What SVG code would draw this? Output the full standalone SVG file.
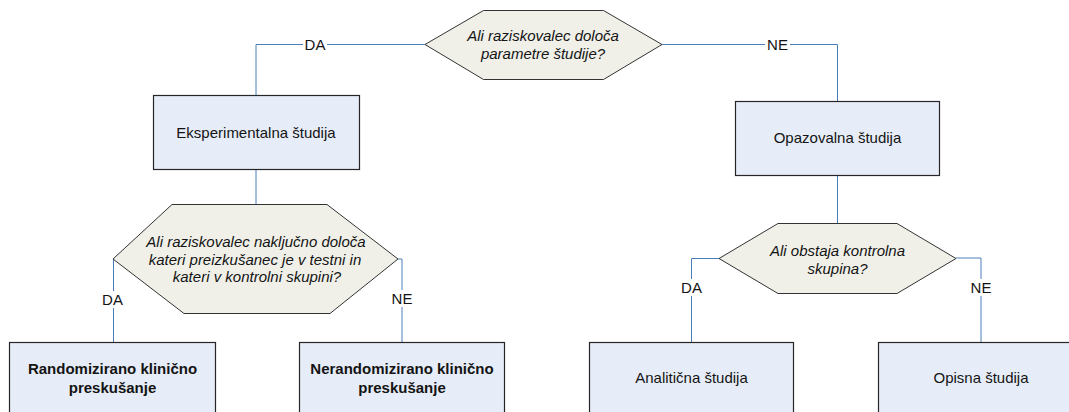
<svg xmlns="http://www.w3.org/2000/svg" width="1069" height="412" viewBox="0 0 1069 412">
  <style>
    .box { fill: #e7edf8; stroke: #262626; stroke-width: 1.2; }
    .hex { fill: #f0f0e9; stroke: #333333; stroke-width: 1; }
    .conn { fill: none; stroke: #4a7ebb; stroke-width: 1; }
    .t { font-family: "Liberation Sans", Arial, sans-serif; font-size: 15px; fill: #141414; text-anchor: middle; }
    .q { font-style: italic; }
    .b { font-weight: bold; }
    .lblbg { fill: #ffffff; }
  </style>
  <rect x="0" y="0" width="1069" height="412" fill="#ffffff"/>

  <g id="connectors">
    <path class="conn" d="M425,44.5 H256 V95"/>
    <path class="conn" d="M662,44.5 H837.5 V101"/>
    <path class="conn" d="M256,169 V204"/>
    <path class="conn" d="M837.5,175 V223"/>
    <path class="conn" d="M113.5,259 V342"/>
    <path class="conn" d="M398,259 H402 V342"/>
    <path class="conn" d="M719,258.5 H691.5 V342"/>
    <path class="conn" d="M956,258 H981 V342"/>
    <g id="labels">
      <rect class="lblbg" x="303" y="36" width="24" height="17"/>
      <text class="t" x="315" y="49.5">DA</text>
      <rect class="lblbg" x="765" y="36" width="25" height="17"/>
      <text class="t" x="777.5" y="49.5">NE</text>
      <rect class="lblbg" x="100" y="291" width="25" height="17"/>
      <text class="t" x="112.5" y="305">DA</text>
      <rect class="lblbg" x="389" y="290" width="26" height="17"/>
      <text class="t" x="402" y="303.5">NE</text>
      <rect class="lblbg" x="679" y="279" width="25" height="17"/>
      <text class="t" x="691.5" y="292.5">DA</text>
      <rect class="lblbg" x="968" y="279" width="26" height="17"/>
      <text class="t" x="981" y="292.5">NE</text>
    </g>
  </g>

  <g id="q1">
    <polygon class="hex" points="425,44.5 483.5,10.5 603.5,10.5 662,44.5 603.5,79.5 483.5,79.5"/>
    <text class="t q" x="543" y="41">Ali raziskovalec določa</text>
    <text class="t q" x="543" y="59">parametre študije?</text>
  </g>

  <g id="n-eksperimentalna">
    <rect class="box" x="153.5" y="95.5" width="206" height="74"/>
    <text class="t" x="256" y="138">Eksperimentalna študija</text>
  </g>

  <g id="n-opazovalna">
    <rect class="box" x="735.5" y="101.5" width="204" height="74"/>
    <text class="t" x="837.5" y="143">Opazovalna študija</text>
  </g>

  <g id="q2">
    <polygon class="hex" points="113,259 172,204.5 327,204.5 398,259 330,313.5 184,313.5"/>
    <text class="t q" x="256" y="247">Ali raziskovalec naključno določa</text>
    <text class="t q" x="255" y="264.5">kateri preizkušanec je v testni in</text>
    <text class="t q" x="257" y="282">kateri v kontrolni skupini?</text>
  </g>

  <g id="q3">
    <polygon class="hex" points="719,258.5 778,223.5 897,223.5 956,258.5 897,293.5 778,293.5"/>
    <text class="t q" x="837.5" y="255.5">Ali obstaja kontrolna</text>
    <text class="t q" x="837.5" y="273.5">skupina?</text>
  </g>

  <g id="n-randomizirano">
    <rect class="box" x="9.5" y="342.5" width="206" height="80"/>
    <text class="t b" x="112.5" y="374">Randomizirano klinično</text>
    <text class="t b" x="112.5" y="393">preskušanje</text>
  </g>

  <g id="n-nerandomizirano">
    <rect class="box" x="299.5" y="342.5" width="205" height="80"/>
    <text class="t b" x="402" y="374">Nerandomizirano klinično</text>
    <text class="t b" x="402" y="393">preskušanje</text>
  </g>

  <g id="n-analiticna">
    <rect class="box" x="589.5" y="342.5" width="204" height="80"/>
    <text class="t" x="691.5" y="383">Analitična študija</text>
  </g>

  <g id="n-opisna">
    <rect class="box" x="878.5" y="342.5" width="206" height="80"/>
    <text class="t" x="981" y="383">Opisna študija</text>
  </g>
</svg>
